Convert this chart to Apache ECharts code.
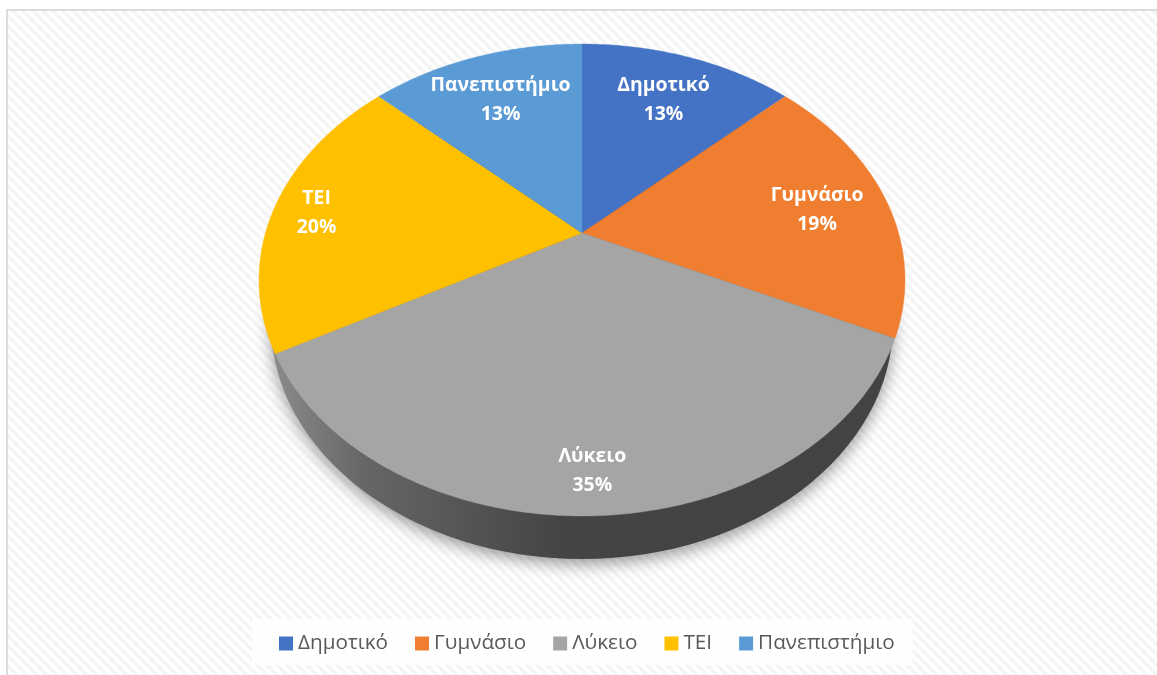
<!DOCTYPE html>
<html><head><meta charset="utf-8">
<style>html,body{margin:0;padding:0;background:#fff}#c{width:1157px;height:675px}</style>
<script src="https://cdn.jsdelivr.net/npm/echarts@6/dist/echarts.min.js"></script>
</head><body><div id="c"></div>
<script>
const categories = ['Δημοτικό','Γυμνάσιο','Λύκειο','ΤΕΙ','Πανεπιστήμιο'];
const shares = [13,19,35,20,13];
const colors = ['#4472C4','#F07E30','#A5A5A5','#FFC000','#5B9BD5'];
const labelRadius = [0.735,0.77,0.862,0.86,0.735];
const labelNudgeX = [0,0,0,-1,0];
const labelNudgeY = [2,4,2,4,2];

// perspective of the tilted disc
const CX=582, CY=280, RX=323, RY=236, TILT=-0.199;
const total = shares.reduce((a,b)=>a+b,0);
function project(deg,r){
  const t=deg*Math.PI/180, x=r*Math.sin(t), y=-r*Math.cos(t);
  const w=1+TILT*y;
  return [CX+RX*x*Math.sqrt(1-TILT*TILT)/w, CY+RY*(y+TILT)/w];
}
const tile=document.createElement('canvas');
tile.width=10;tile.height=10;
const g=tile.getContext('2d');
g.fillStyle='#ffffff';g.fillRect(0,0,10,10);
g.fillStyle='#f5f5f5';
for(let y=0;y<10;y++)for(let x=0;x<10;x++){if(((x-y+20)%10)<5)g.fillRect(x,y,1,1);}

function sliceSeries(i){
  const before=shares.slice(0,i).reduce((a,b)=>a+b,0);
  return {
    type:'custom',name:categories[i],coordinateSystem:'none',z:3,
    itemStyle:{color:colors[i]},
    data:[[shares[i]]],
    renderItem(p,api){
      const v=api.value(0), a0=before/total*360, a1=a0+v/total*360;
      const pts=[project(0,0)];
      for(let a=a0;a<a1;a+=0.5)pts.push(project(a,1));
      pts.push(project(a1,1));
      const lab=project((a0+a1)/2,labelRadius[i]);
      return {type:'group',children:[
        {type:'polygon',shape:{points:pts},style:{fill:colors[i],stroke:colors[i],lineWidth:0.4}},
        {type:'text',z2:10,x:lab[0]+labelNudgeX[i],y:lab[1]+labelNudgeY[i],style:{
          text:categories[i]+'\n'+Math.round(v/total*100)+'%',
          fill:'#fff',fontFamily:'Open Sans',fontWeight:'bold',fontSize:19.4,
          lineHeight:29,align:'center',verticalAlign:'middle'}}
      ]};
    }
  };
}
const wall={
  type:'custom',coordinateSystem:'none',z:2,silent:true,data:[[1]],
  renderItem(){
    return {type:'ellipse',shape:{cx:CX,cy:323,rx:311,ry:236},style:{
      fill:{type:'linear',x:0,y:0,x2:1,y2:0,colorStops:[
        {offset:0,color:'#8c8c8c'},{offset:0.15,color:'#666666'},
        {offset:0.47,color:'#444444'},{offset:1,color:'#434343'}]},
      shadowBlur:16,shadowColor:'rgba(0,0,0,0.4)',shadowOffsetY:5}};
  }
};
const chart=echarts.init(document.getElementById('c'),null,{renderer:'canvas'});
chart.setOption({
  animation:false,backgroundColor:'#fff',
  graphic:[
    {type:'rect',z:0,shape:{x:8,y:11,width:1149,height:664},style:{fill:{image:tile,repeat:'repeat'}}},
    {type:'rect',z:0,shape:{x:6,y:9,width:1151,height:2},style:{fill:'#dcdcdc'}},
    {type:'rect',z:0,shape:{x:6,y:9,width:2,height:666},style:{fill:'#dcdcdc'}}
  ],
  legend:{data:categories,left:252,top:619,orient:'horizontal',selectedMode:false,
    padding:[14,18,11,27],itemGap:27,itemWidth:14,itemHeight:14,icon:'rect',
    backgroundColor:'rgba(255,255,255,0.85)',
    textStyle:{fontFamily:'Open Sans',fontSize:20.7,color:'#595959'}},
  series:[wall].concat(categories.map((_,i)=>sliceSeries(i)))
});
</script></body></html>
